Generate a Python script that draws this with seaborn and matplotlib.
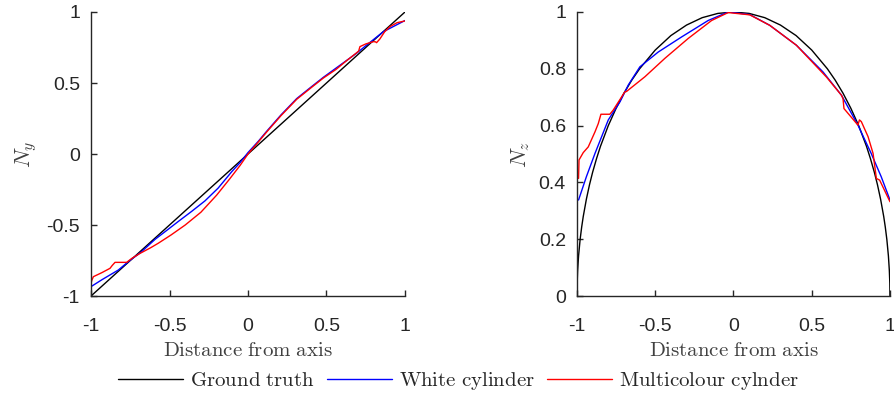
import numpy as np
import matplotlib
matplotlib.use("Agg")
from matplotlib import pyplot as plt
from matplotlib.lines import Line2D
import seaborn as sns

# 左图 N_y
gt_y_x = [-1.0, 1.0]
gt_y = [-1.0, 1.0]

white_y_x = [-1.0, -0.93, -0.826, -0.762, -0.68, -0.592, -0.52, -0.444, -0.36, -0.274, -0.19,
             -0.104, -0.05, 0.0, 0.066, 0.119, 0.21, 0.31, 0.4, 0.48, 0.586, 0.692, 0.77, 0.862,
             0.93, 1.0]
white_y = [-0.934, -0.885, -0.817, -0.758, -0.69, -0.601, -0.54, -0.475, -0.405, -0.33, -0.24,
           -0.125, -0.06, 0.01, 0.09, 0.16, 0.275, 0.39, 0.47, 0.54, 0.625, 0.71, 0.78, 0.861,
           0.9, 0.94]

multi_y_x = [-1.0, -0.995, -0.985, -0.93, -0.879, -0.865, -0.847, -0.80, -0.773, -0.74, -0.688,
             -0.62, -0.571, -0.49, -0.4, -0.3, -0.2, -0.12, -0.05, 0.0, 0.066, 0.119, 0.21,
             0.31, 0.4, 0.48, 0.56, 0.62, 0.692, 0.705, 0.713, 0.75, 0.798, 0.812, 0.819, 0.84,
             0.87, 0.904, 0.95, 1.0]
multi_y = [-0.91, -0.89, -0.864, -0.835, -0.805, -0.785, -0.763, -0.763, -0.763, -0.735, -0.7,
           -0.66, -0.628, -0.57, -0.5, -0.41, -0.29, -0.18, -0.08, 0.0, 0.085, 0.155, 0.27,
           0.385, 0.465, 0.535, 0.595, 0.65, 0.713, 0.725, 0.756, 0.775, 0.791, 0.79, 0.784, 0.81,
           0.86, 0.897, 0.925, 0.937]

# 右图 N_z
gt_z_x = [-1.0, -0.999, -0.996, -0.99, -0.98, -0.97, -0.96, -0.94, -0.92, -0.9, -0.875, -0.85,
          -0.8, -0.75, -0.7, -0.65, -0.6, -0.5, -0.4, -0.3, -0.2, -0.1, 0.0, 0.1, 0.2, 0.3,
          0.4, 0.5, 0.6, 0.65, 0.7, 0.75, 0.8, 0.85, 0.875, 0.9, 0.92, 0.94, 0.96, 0.97, 0.98,
          0.99, 0.996, 0.999, 1.0]
gt_z = [0.0, 0.045, 0.089, 0.141, 0.199, 0.243, 0.28, 0.341, 0.392, 0.436, 0.484, 0.527,
        0.6, 0.661, 0.714, 0.76, 0.8, 0.866, 0.917, 0.954, 0.98, 0.995, 1.0, 0.995, 0.98, 0.954,
        0.917, 0.866, 0.8, 0.76, 0.714, 0.661, 0.6, 0.527, 0.484, 0.436, 0.392, 0.341, 0.28,
        0.243, 0.199, 0.141, 0.089, 0.045, 0.0]

white_z_x = [-0.99, -0.94, -0.885, -0.8, -0.725, -0.672, -0.598, -0.481, -0.332, -0.162, -0.034,
             0.104, 0.232, 0.402, 0.572, 0.69, 0.795, 0.88, 0.944, 1.0]
white_z = [0.338, 0.42, 0.502, 0.62, 0.684, 0.743, 0.807, 0.859, 0.912, 0.97, 1.0,
           0.991, 0.953, 0.883, 0.789, 0.707, 0.602, 0.502, 0.42, 0.338]

multi_z_x = [-0.99, -0.987, -0.96, -0.928, -0.885, -0.864, -0.847, -0.79, -0.768, -0.694, -0.684,
             -0.566, -0.438, -0.289, -0.14, -0.034, 0.104, 0.232, 0.402, 0.594, 0.69, 0.7, 0.706,
             0.795, 0.805, 0.817, 0.86, 0.892, 0.913, 0.934, 1.0]
multi_z = [0.414, 0.479, 0.505, 0.525, 0.578, 0.607, 0.64, 0.64, 0.655, 0.719, 0.72,
           0.772, 0.837, 0.907, 0.97, 0.998, 0.99, 0.953, 0.883, 0.771, 0.707, 0.695, 0.66,
           0.602, 0.62, 0.614, 0.561, 0.502, 0.414, 0.408, 0.332]

labels = ["Ground truth", "White cylinder", "Multicolour cylnder"]
colors = ["black", "#0000ff", "#ff0000"]

sns.set_theme(style="white")
plt.rcParams['font.family'] = ['Liberation Sans', 'DejaVu Sans']
plt.rcParams['mathtext.fontset'] = 'cm'
plt.rcParams['axes.unicode_minus'] = False

fig = plt.figure(figsize=(8.94, 3.96), dpi=100)
ax1 = fig.add_axes([0.1018, 0.2525, 0.3512, 0.7172])
ax2 = fig.add_axes([0.6454, 0.2525, 0.3501, 0.7172])

axcol = "#262626"


def draw(ax, series, yticks, ylim, ylab):
    for (x, y), c in zip(series, colors):
        sns.lineplot(x=x, y=y, color=c, lw=1.0, ax=ax, estimator=None, sort=False)
    ax.set_xlim(-1, 1)
    ax.set_ylim(*ylim)
    ax.set_xticks([-1, -0.5, 0, 0.5, 1])
    ax.set_xticklabels(["-1", "-0.5", "0", "0.5", "1"])
    ax.set_yticks(yticks)
    ax.set_yticklabels([f"{t:g}" for t in yticks])
    for s in ["top", "right"]:
        ax.spines[s].set_visible(False)
    for s in ["left", "bottom"]:
        ax.spines[s].set_color(axcol)
        ax.spines[s].set_linewidth(1.0)
    ax.tick_params(direction="in", length=4, width=1.0, colors=axcol, labelsize=14,
                   left=True, bottom=True)
    ax.tick_params(axis="x", pad=16)
    ax.tick_params(axis="y", pad=8)
    ax.set_xlabel(r"$\mathrm{Distance\ from\ axis}$", fontsize=15, color="#404040", labelpad=4)
    ax.set_ylabel(ylab, fontsize=16, color="#404040", labelpad=5)


draw(ax1, [(gt_y_x, gt_y), (white_y_x, white_y), (multi_y_x, multi_y)],
     [-1, -0.5, 0, 0.5, 1], (-1, 1), r"$N_y$")
draw(ax2, [(gt_z_x, gt_z), (white_z_x, white_z), (multi_z_x, multi_z)],
     [0, 0.2, 0.4, 0.6, 0.8, 1], (0, 1), r"$N_z$")

handles = [Line2D([], [], color=c, lw=1.0) for c in colors]
fig.legend(handles, [r"$\mathrm{" + l.replace(" ", r"\ ") + "}$" for l in labels],
           loc="center", bbox_to_anchor=(0.513, 0.038), ncol=3, frameon=False, fontsize=15,
           handlelength=3.1, handletextpad=0.35, columnspacing=0.6)

fig.savefig("out.png", dpi=100)
